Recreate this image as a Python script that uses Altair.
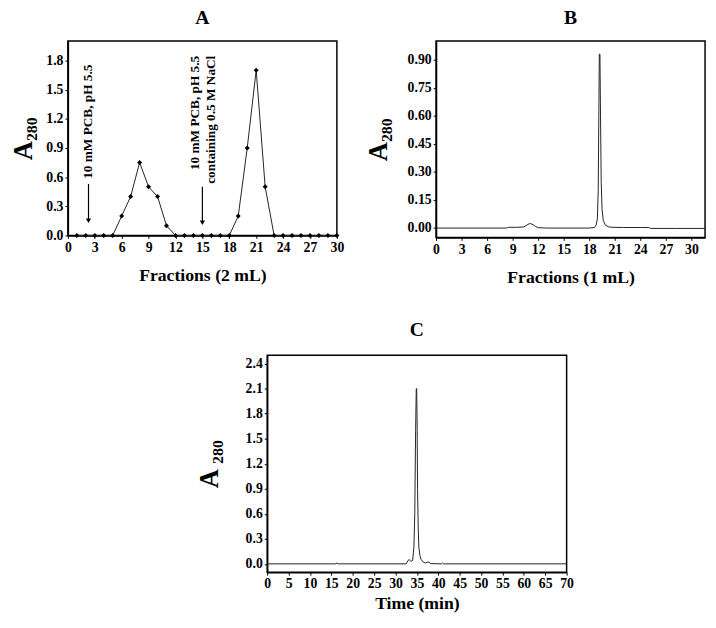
import altair as alt
import pandas as pd

FONT = "Liberation Serif"

# ---------- Panel A data ----------
a_fraction = list(range(1, 31))
a_value = [0, 0, 0, 0, 0, 0.2, 0.4, 0.75, 0.5, 0.4, 0.1, 0, 0, 0, 0,
           0, 0, 0, 0.2, 0.9, 1.7, 0.5, 0, 0, 0, 0, 0, 0, 0, 0]

a_note_text = ["10 mM PCB, pH 5.5", "10 mM PCB, pH 5.5", "containing 0.5 M NaCl"]
a_note_x = [2.2, 14.2, 16.0]
a_note_y = [1.17, 1.26, 1.19]

a_arrow_x = [2.3, 15.0]
a_arrow_top = [0.53, 0.50]
a_arrow_tip = [0.15, 0.13]

# ---------- Panel B data ----------
b_x = [0, 2, 4, 6, 8.3, 8.5, 9.5, 10.3, 10.6, 10.9, 11.1, 11.4, 11.7, 12.0, 13.0,
       18.0, 18.6, 18.8, 18.95, 19.05, 19.12, 19.18, 19.25, 19.32, 19.4, 19.5,
       19.65, 19.9, 20.3, 20.8, 22, 24, 25.0, 25.2, 28, 31.6]
b_y = [0.0, 0.0, 0.0, 0.0, 0.0, 0.004, 0.004, 0.006, 0.014, 0.022, 0.024, 0.018,
       0.008, 0.002, 0.0,
       0.0, 0.003, 0.015, 0.05, 0.2, 0.6, 0.93, 0.93, 0.6, 0.25, 0.1,
       0.04, 0.015, 0.006, 0.004, 0.003, 0.003, 0.003, -0.002, -0.002, -0.002]

# ---------- Panel C data ----------
c_x = [0, 16.0, 16.3, 16.6, 32.5, 32.9, 33.2, 33.6, 34.0, 34.3, 34.5, 34.7, 34.85,
       34.95, 35.05, 35.15, 35.3, 35.45, 35.7, 36.0, 36.5, 37.0, 37.4, 37.8, 38.2,
       40.8, 41.0, 41.2, 70]
c_y = [0, 0, 0.01, 0, 0, 0.04, 0.05, 0.03, 0.04, 0.2, 0.6, 1.6, 2.1,
       2.1, 1.7, 0.9, 0.45, 0.2, 0.1, 0.05, 0.02, 0.01, 0.02, 0.02, 0.003,
       0, 0.01, 0, 0]

a_yticks = [0, 0.3, 0.6, 0.9, 1.2, 1.5, 1.8]
a_xticks = list(range(0, 31, 3))
b_yticks = [0, 0.15, 0.30, 0.45, 0.60, 0.75, 0.90]
b_xticks = list(range(0, 31, 3))
c_yticks = [0, 0.3, 0.6, 0.9, 1.2, 1.5, 1.8, 2.1, 2.4]
c_xticks = list(range(0, 71, 5))


def xaxis(title, values, tpad, fmt="d"):
    return alt.Axis(title=title, values=values, format=fmt, grid=False,
                    labelFont=FONT, labelFontWeight="bold", labelFontSize=14,
                    labelColor="black", titleFont=FONT, titleFontWeight="bold",
                    titleFontSize=18, titleColor="black", titlePadding=tpad,
                    domainColor="black", domainWidth=1.5, tickColor="black",
                    tickSize=3, labelPadding=2, labelFlush=False,
                    labelOverlap=False)


def yaxis(title, values, fmt, tpad):
    return alt.Axis(title=title, values=values, format=fmt, grid=False,
                    labelFont=FONT, labelFontWeight="bold", labelFontSize=14,
                    labelColor="black", titleFont=FONT, titleFontWeight="bold",
                    titleFontSize=27, titleColor="black", titlePadding=tpad,
                    domainColor="black", domainWidth=1.5, tickColor="black",
                    tickSize=3, labelPadding=2, labelFlush=False,
                    labelOverlap=False)


def ptitle(t, off):
    return alt.TitleParams(t, font=FONT, fontWeight="bold", fontSize=20,
                           color="black", offset=off)


frame = alt.ViewBackground(stroke="black", strokeWidth=1.5)

# ---------- Chart A ----------
a_xscale = alt.Scale(domain=[0, 30], nice=False)
a_yscale = alt.Scale(domain=[0, 2.0], nice=False)
a_xax = xaxis("Fractions (2 mL)", a_xticks, 13)
a_yax = yaxis("A₂₈₀", a_yticks, ".1f", 9)

dfa = pd.DataFrame({"x": a_fraction, "y": a_value})
xa = alt.X("x:Q", scale=a_xscale, axis=a_xax)
ya = alt.Y("y:Q", scale=a_yscale, axis=a_yax)
base_a = alt.Chart(dfa)
line_a = base_a.mark_line(color="#222", strokeWidth=1).encode(x=xa, y=ya)
pts_a = base_a.mark_point(shape="diamond", filled=True, color="black",
                          size=26, opacity=1).encode(x=xa, y=ya)
dfn = pd.DataFrame({"x": a_note_x, "y": a_note_y, "t": a_note_text})
notes = alt.Chart(dfn).mark_text(angle=270, font=FONT, fontWeight="bold",
                                 fontSize=13.5, color="black", align="center",
                                 baseline="middle").encode(
    x=xa, y=ya, text="t:N")
dfr = pd.DataFrame({"x": a_arrow_x, "y": a_arrow_top, "y2": a_arrow_tip})
arrows = alt.Chart(dfr).mark_rule(color="black", strokeWidth=1.2).encode(
    x=xa, y=ya, y2="y2:Q")
heads = alt.Chart(dfr).mark_point(shape="triangle-down", filled=True,
                                  color="black", size=28, opacity=1).encode(
    x=xa, y=alt.Y("y2:Q", scale=a_yscale, axis=a_yax))
chart_a = alt.layer(line_a, pts_a, notes, arrows, heads).properties(
    width=274, height=198, title=ptitle("A", 13), view=frame)

# ---------- Chart B ----------
dfb = pd.DataFrame({"x": b_x, "y": b_y})
chart_b = alt.Chart(dfb).mark_line(color="#222", strokeWidth=1).encode(
    x=alt.X("x:Q", scale=alt.Scale(domain=[0, 31.6], nice=False),
            axis=xaxis("Fractions (1 mL)", b_xticks, 13)),
    y=alt.Y("y:Q", scale=alt.Scale(domain=[-0.05, 1.0], nice=False),
            axis=yaxis("A₂₈₀", b_yticks, ".2f", 15)),
).properties(width=274, height=200, title=ptitle("B", 13), view=frame)

# ---------- Chart C ----------
dfc = pd.DataFrame({"x": c_x, "y": c_y})
chart_c = alt.Chart(dfc).mark_line(color="#222", strokeWidth=1).encode(
    x=alt.X("x:Q", scale=alt.Scale(domain=[0, 70], nice=False),
            axis=xaxis("Time (min)", c_xticks, 4)),
    y=alt.Y("y:Q", scale=alt.Scale(domain=[-0.1, 2.5], nice=False),
            axis=yaxis("A ₂₈₀", c_yticks, ".1f", 22)),
).properties(width=305, height=221, title=ptitle("C", 16), view=frame)

spacer = alt.Chart(pd.DataFrame({"v": [0]})).mark_point(opacity=0).encode(
    x=alt.value(0), y=alt.value(0)).properties(
    width=129, height=10,
    view=alt.ViewBackground(stroke="white", strokeWidth=0, strokeOpacity=0))

top = alt.hconcat(chart_a, chart_b, spacing=19)
bottom = alt.hconcat(spacer, chart_c, spacing=0)
chart = alt.vconcat(top, bottom, spacing=32).properties(
    padding={"left": 0, "top": -6, "right": 0, "bottom": 0}).configure_view(
    stroke="transparent").configure(background="white")

chart.save("out.html", embed_options={"renderer": "svg", "actions": False})
